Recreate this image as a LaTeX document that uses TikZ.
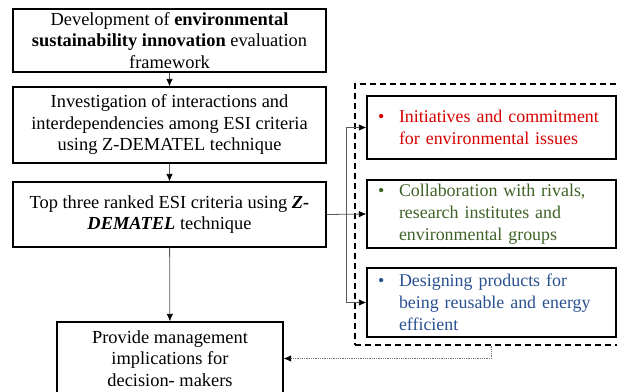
\documentclass[tikz,border=0pt]{standalone}
\usepackage{fontspec}
\setmainfont{Liberation Serif}
\usetikzlibrary{positioning,arrows.meta}
\definecolor{esired}{RGB}{214,0,0}
\definecolor{esigreen}{RGB}{62,98,38}
\definecolor{esiblue}{RGB}{40,80,145}

\tikzset{
  stagebox/.style={draw, line width=1.3pt, align=center, inner sep=0pt,
    font=\fontsize{18.4}{21.5}\selectfont},
  critbox/.style={draw, line width=1.3pt, minimum width=249pt, text width=240pt,
    inner xsep=4.5pt, inner ysep=0pt, align=left,
    font=\fontsize{17.9}{22}\selectfont},
  link/.style={draw=black!65, line width=0.8pt, -{Latex[length=7.5pt,width=6.5pt,black]}},
  dotlink/.style={draw=black!55, line width=0.8pt, densely dotted,
    -{Latex[length=7.5pt,width=6.5pt,black]}}
}
\newcommand{\bul}{\hspace*{6.5pt}\makebox[21pt][l]{\textbullet}}
\newcommand{\ind}{\hspace*{27.5pt}}

\begin{document}
\begin{tikzpicture}[x=1pt, y=-1pt]
  \useasboundingbox (0,0) rectangle (617,391);
  \clip (0,0) rectangle (617,391);

  % left column
  \node[stagebox, minimum width=313pt, minimum height=63pt] (dev) at (169.5,40.5)
    {Development of \textbf{environmental}\\ \textbf{sustainability innovation} evaluation\\ framework};
  \node[stagebox, minimum width=313pt, minimum height=76pt] (inv) at (169.5,125)
    {Investigation of interactions and\\ interdependencies among ESI criteria\\ using Z-DEMATEL technique};
  \node[stagebox, minimum width=313pt, minimum height=65pt] (top) at (169.5,214.5)
    {Top three ranked ESI criteria using \textbf{\textit{Z-}}\\ \textbf{\textit{DEMATEL}} technique};
  \node[stagebox, minimum width=226pt, minimum height=73pt] (impl) at (170,358.5)
    {Provide management\\ implications for\\ decision- makers};

  % right group
  \node[draw, dash pattern=on 6pt off 4pt, line width=1.3pt, minimum width=280pt,
    minimum height=261pt] (grp) at (495,214.5) {};
  \node[critbox, text=esired, minimum height=63pt] (init) at (491.5,127.5)
    {\bul Initiatives and commitment\\ \ind for environmental issues};
  \node[critbox, text=esigreen, minimum height=68pt] (collab) at (491.5,214)
    {\bul Collaboration with rivals,\\ \ind research institutes and\\ \ind environmental groups};
  \node[critbox, text=esiblue, minimum height=69pt] (design) at (491.5,302.5)
    {\bul Designing products for\\ \ind being reusable and energy\\ \ind efficient};

  % connectors
  \draw[link] (dev) -- (inv);
  \draw[link] (inv) -- (top);
  \draw[link] (top) -- (impl);
  \coordinate (split) at (346,214);
  \draw[link] (top.east) -- (collab.west);
  \draw[link] (split) |- (init.west);
  \draw[link] (split) |- (design.west);
  \draw[dotlink] (design.south |- grp.south) |- (impl.east);
\end{tikzpicture}
\end{document}
